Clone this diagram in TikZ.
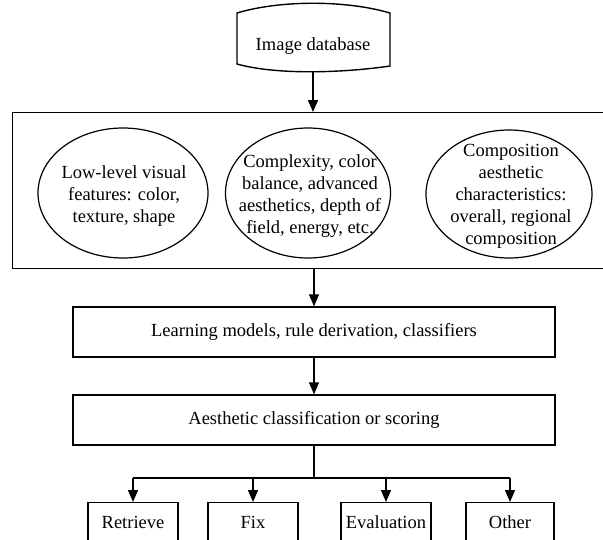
\documentclass[tikz,border=0pt]{standalone}
\usepackage{fontspec}
\setmainfont{Liberation Serif}
\usetikzlibrary{arrows.meta,shapes.geometric}
\begin{document}
\begin{tikzpicture}[x=1pt,y=-1pt,
  line width=1.4pt,
  lbl/.style={font=\fontsize{18.5}{22}\selectfont, align=center, inner sep=0pt},
  feat/.style={draw, ellipse, inner sep=0pt, line width=1.2pt},
  stepbox/.style={draw, rectangle, inner sep=0pt},
  arr/.style={-{Triangle[width=10pt,length=12pt]}}
]
\useasboundingbox (0,0) rectangle (603,539);
\clip (0,0) rectangle (603,539);
\fill[white] (0,0) rectangle (603,539);

% database
\draw (237,13) .. controls (280,0) and (346,0) .. (390,13) -- (390,66)
      .. controls (350,72) and (280,76) .. (237,64) -- cycle;
\node[lbl] (db) at (313,46) {Image database};
\coordinate (dbb) at (313,72);

% big box
\node[stepbox, minimum width=620pt, minimum height=156pt, anchor=north west] (big) at (12,112) {};
\coordinate (bigtop) at (313,112);
\coordinate (bigbot) at (314,268);

\node[feat, minimum width=170pt, minimum height=130pt] (e1) at (123,193) {};
\node[lbl] (t1) at (124,196) {Low-level visual\\features: color,\\texture, shape};
\node[feat, minimum width=165pt, minimum height=130pt] (e2) at (308,193) {};
\node[lbl] (t2) at (310,196) {Complexity, color\\balance, advanced\\aesthetics, depth of\\field, energy, etc.};
\node[feat, minimum width=166pt, minimum height=128pt] (e3) at (509,194) {};
\node[lbl] (t3) at (511,196) {Composition\\aesthetic\\characteristics:\\overall, regional\\composition};

% learning and classification
\node[stepbox, minimum width=482pt, minimum height=50pt, lbl] (learn) at (314,332) {Learning models, rule derivation, classifiers};
\node[stepbox, minimum width=482pt, minimum height=50pt, lbl] (cls) at (314,420) {Aesthetic classification or scoring};

% bottom boxes
\node[stepbox, minimum width=90pt, minimum height=60pt, anchor=north] (r) at (133,502) {};
\node[stepbox, minimum width=90pt, minimum height=60pt, anchor=north] (f) at (253,502) {};
\node[stepbox, minimum width=90pt, minimum height=60pt, anchor=north] (ev) at (386,502) {};
\node[stepbox, minimum width=88pt, minimum height=60pt, anchor=north] (o) at (510,502) {};
\node[lbl] (rt) at (133,522) {Retrieve};
\node[lbl] (ft) at (253,522) {Fix};
\node[lbl] (evt) at (386,522) {Evaluation};
\node[lbl] (ot) at (510,522) {Other};

% connectors
\draw[arr] (dbb) -- (bigtop);
\draw[arr] (bigbot) -- (learn.north);
\draw[arr] (learn.south) -- (cls.north);
\coordinate (split) at (314,478);
\draw (cls.south) -- (split);
\draw (r.north |- split) -- (o.north |- split);
\draw[arr] (r.north |- split) -- (r.north);
\draw[arr] (f.north |- split) -- (f.north);
\draw[arr] (ev.north |- split) -- (ev.north);
\draw[arr] (o.north |- split) -- (o.north);
\end{tikzpicture}
\end{document}
